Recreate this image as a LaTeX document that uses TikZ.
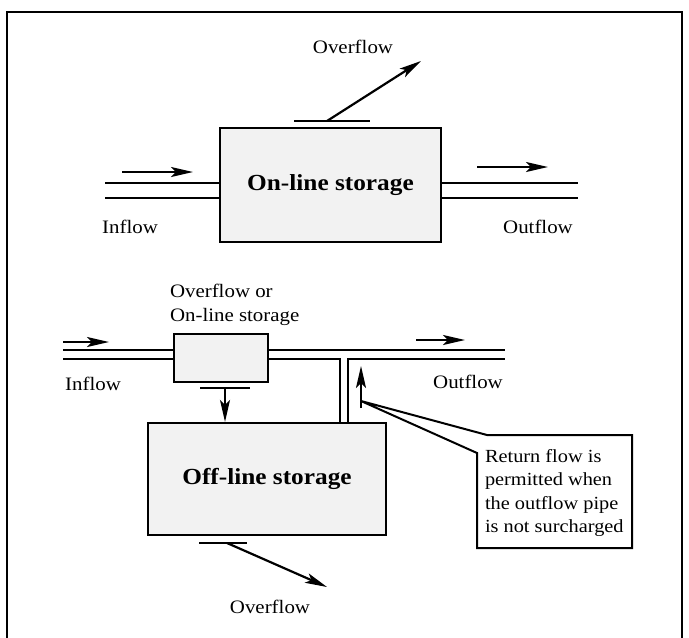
\documentclass[tikz,border=0pt]{standalone}
\usepackage{fontspec}
\setmainfont{Liberation Serif}[FakeStretch=1.1]
\usetikzlibrary{arrows.meta}
\begin{document}
\begin{tikzpicture}[x=1pt,y=-1pt,
  line width=2pt,
  tank/.style={draw, fill=black!5, line width=2.2pt, inner sep=0pt,
               font=\fontsize{23}{27}\selectfont\bfseries},
  lbl/.style={font=\fontsize{19}{24}\selectfont, inner sep=0pt},
  note/.style={font=\fontsize{18.5}{23.5}\selectfont, inner sep=0pt, align=left},
  flow/.style={-{Stealth[length=22pt,width=10pt,inset=5pt]}, line width=2.2pt},
  pipe/.style={line width=2pt},
]
\useasboundingbox (0,0) rectangle (689,638);
\draw[line width=2pt] (7,638) -- (7,12) -- (682,12) -- (682,638);

% ---------- top: on-line storage ----------
\node[tank, minimum width=221pt, minimum height=114pt] (on) at (330.5,185) {On-line storage};
\coordinate (i1) at (105,183); \coordinate (i2) at (105,198);
\coordinate (o1) at (578,183); \coordinate (o2) at (578,198);
\draw[pipe] (i1) -- (i1 -| on.west);
\draw[pipe] (i2) -- (i2 -| on.west);
\draw[pipe] (o1 -| on.east) -- (o1);
\draw[pipe] (o2 -| on.east) -- (o2);
\coordinate (ia0) at (122,172); \coordinate (ia1) at (193,172);
\draw[flow] (ia0) -- (ia1);
\coordinate (oa0) at (477,167); \coordinate (oa1) at (548,167);
\draw[flow] (oa0) -- (oa1);
\coordinate (p1) at (294,121); \coordinate (p2) at (370,121);
\draw[pipe] (p1) -- (p2);
\coordinate (ov0) at (327,121); \coordinate (ov1) at (421,61);
\draw[flow] (ov0) -- (ov1);
\node[lbl] (ovtxt) at (353,47) {Overflow};
\node[lbl] (intxt) at (130,227) {Inflow};
\node[lbl] (outtxt) at (538,227) {Outflow};

% ---------- bottom: off-line storage ----------
\node[lbl, align=left, anchor=west] (ortxt) at (169,305) {Overflow or\\On-line storage};
\node[tank, minimum width=94pt, minimum height=48pt] (small) at (221,358) {};
\node[tank, minimum width=238pt, minimum height=112pt] (off) at (267,479) {Off-line storage};

\coordinate (j1) at (63,350); \coordinate (j2) at (63,359);
\draw[pipe] (j1) -- (j1 -| small.west);
\draw[pipe] (j2) -- (j2 -| small.west);
\coordinate (k1) at (505,350); \coordinate (k2) at (505,359);
\coordinate (va) at (340,359); \coordinate (vb) at (348,359);
\draw[pipe] (k1 -| small.east) -- (k1);
\draw[pipe] (k2 -| small.east) -- (va) -- (va |- off.north);
\draw[pipe] (vb |- off.north) -- (vb) -- (k2);

\coordinate (ja0) at (63,342); \coordinate (ja1) at (109,342);
\draw[flow] (ja0) -- (ja1);
\coordinate (ka0) at (416,340); \coordinate (ka1) at (465,340);
\draw[flow] (ka0) -- (ka1);

\coordinate (q1) at (200,388); \coordinate (q2) at (250,388);
\draw[pipe] (q1) -- (q2);
\coordinate (d0) at (225,388);
\draw[flow] (d0) -- (d0 |- off.north);

\coordinate (r1) at (199,543); \coordinate (r2) at (247,543);
\draw[pipe] (r1) -- (r2);
\coordinate (b0) at (227,543); \coordinate (b1) at (327,587);
\draw[flow] (b0) -- (b1);

\node[lbl] (ov2txt) at (270,607) {Overflow};
\node[lbl] (in2txt) at (93,384) {Inflow};
\node[lbl] (out2txt) at (468,382) {Outflow};

\coordinate (ret0) at (361,408); \coordinate (ret1) at (361,366);
\draw[flow] (ret0) -- (ret1);

\coordinate (apex) at (361,401);
\draw[line width=2pt, line join=miter, fill=white] (apex) -- (487,435) -- (632,435) -- (632,548) -- (477,548) -- (477,453) -- cycle;
\node[note, anchor=west] (ntxt) at (484,493) {Return flow is\\permitted when\\the outflow pipe\\is not surcharged};
\end{tikzpicture}
\end{document}
